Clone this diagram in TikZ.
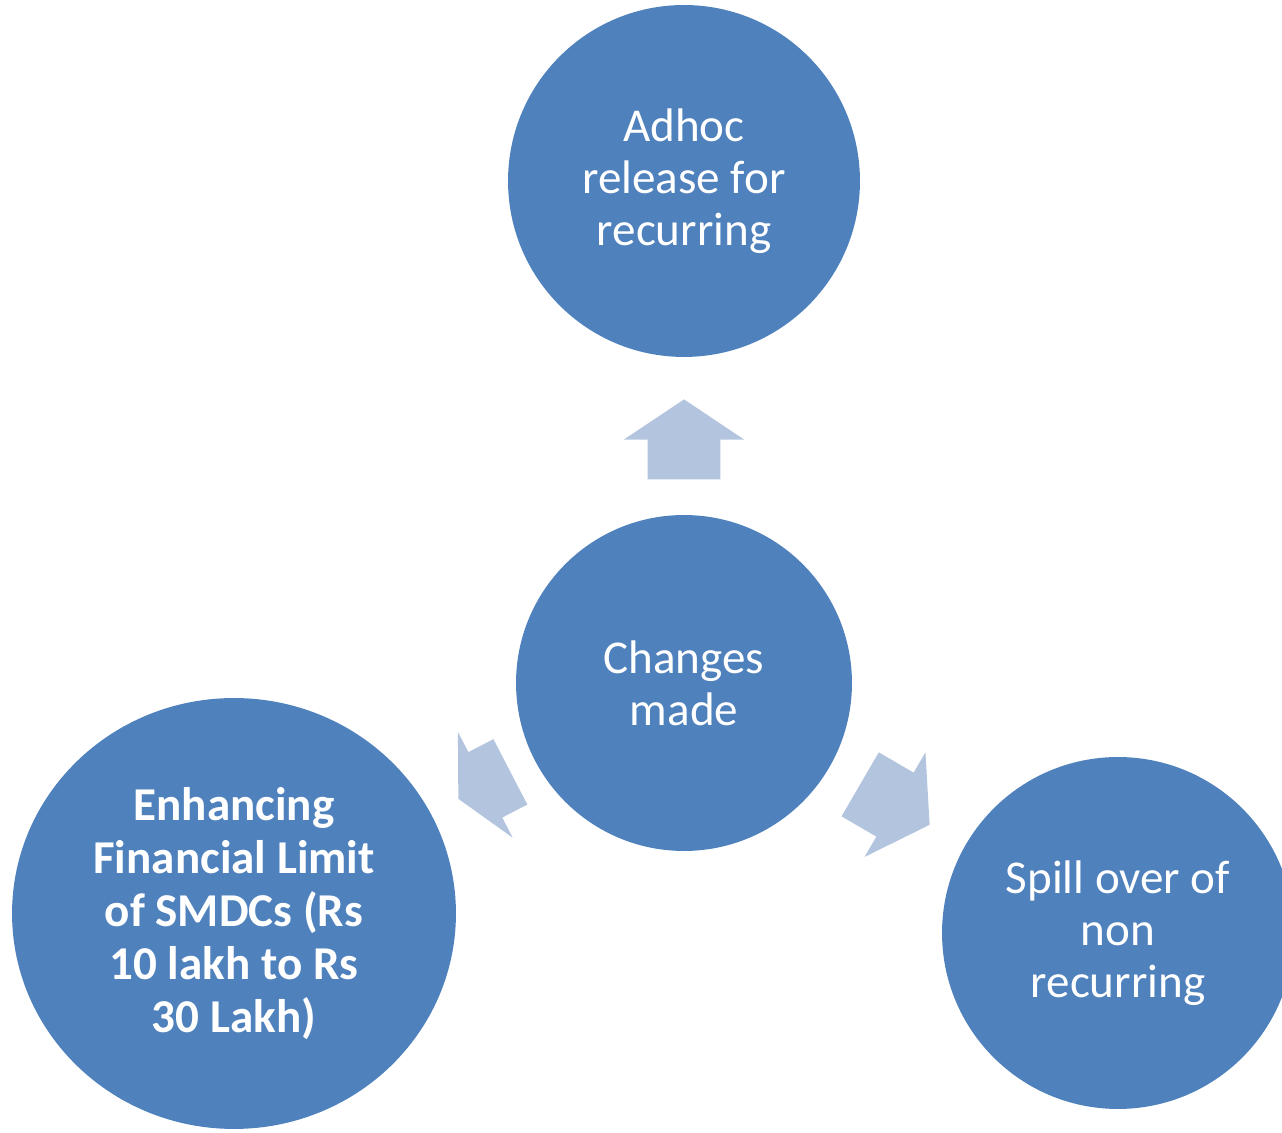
\documentclass[tikz,border=0pt]{standalone}
\usepackage{fontspec}
\setmainfont{Carlito}
\usepackage{tikz}
\usetikzlibrary{shapes.geometric}
\usetikzlibrary{shapes.arrows}
\definecolor{bubbleblue}{RGB}{79,129,189}
\definecolor{arrowblue}{RGB}{179,196,222}
\tikzset{
  bubble/.style={circle, fill=bubbleblue, text=white, align=center, inner sep=0pt,
    font=\fontsize{26.8}{29.6}\selectfont},
  blockarrow/.style={single arrow, fill=arrowblue, inner xsep=0pt, inner ysep=0.72cm,
    anchor=tip, single arrow head indent=0pt}
}

\begin{document}
\begin{tikzpicture}[x=0.02cm, y=0.02cm]
  \useasboundingbox (0, 0) rectangle (1282, 1133);

  \node[bubble, minimum size=6.72cm] (changes) at (684, 450) {Changes\\made};
  \node[bubble, minimum size=7.04cm] (adhoc) at (684, 952) {Adhoc\\release for\\recurring};
  \node[bubble, ellipse, minimum width=8.88cm, minimum height=8.62cm,
    font=\fontsize{26.8}{30.2}\selectfont\bfseries] (enhance) at (234, 219.5)
    {Enhancing\\Financial Limit\\of SMDCs (Rs\\10 lakh to Rs\\30 Lakh)};
  \node[bubble, minimum size=7.04cm] (spill) at (1118, 200) {Spill over of\\non\\recurring};

  % block arrows from the centre out to each bubble
  \node[blockarrow, rotate=90, minimum height=1.6cm,
    single arrow head extend=0.48cm, single arrow tip angle=112.6] (toadhoc) at (684, 734) {};
  \node[blockarrow, rotate=207.4, minimum height=1.172cm, inner ysep=0.73cm,
    single arrow head extend=0.455cm, single arrow tip angle=126] (toenhance) at (458, 334) {};
  \node[blockarrow, rotate=-30.2, minimum height=1.608cm, inner ysep=0.734cm,
    single arrow head extend=0.47cm, single arrow tip angle=113] (tospill) at (930, 308) {};
\end{tikzpicture}
\end{document}
